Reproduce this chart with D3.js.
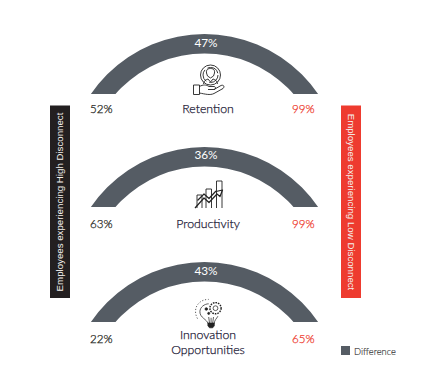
<!DOCTYPE html>
<html>
<head>
<meta charset="utf-8">
<script src="https://cdn.jsdelivr.net/npm/d3@7"></script>
<style>
  html, body { margin: 0; padding: 0; background: #fff; }
  text { font-family: Lato, sans-serif; font-weight: 300; }
</style>
</head>
<body>
<div id="chart"></div>
<script>
var categories = ['Retention', 'Productivity', 'Innovation Opportunities'];
var highDisconnect = [52, 63, 22];
var lowDisconnect = [99, 99, 65];
var difference = [47, 36, 43];
var leftLabel = 'Employees experiencing High Disconnect';
var rightLabel = 'Employees experiencing Low Disconnect';
var legendLabel = 'Difference';

var grey = '#555c64', red = '#ee3b2f', dark = '#231f20', ink = '#1f2138';

var svg = d3.select('#chart')
    .append('svg')
        .attr('width', 421)
        .attr('height', 382)
        .style('display', 'block');

// base line of each arch
var baseY = d3.scaleOrdinal().domain(categories).range([94, 207, 322]);
var cx = 204.5, rOuter = 137.5, rInner = 118, rise = 77.5;
var arc = d3.arc().innerRadius(rInner).outerRadius(rOuter)
    .startAngle(-Math.PI / 2).endAngle(Math.PI / 2);

var defs = svg.append('defs');
defs.append('clipPath').attr('id', 'cut')
    .append('rect')
        .attr('x', -rOuter).attr('y', -rOuter)
        .attr('width', rOuter * 2).attr('height', rOuter - rise);

var rows = svg.selectAll('g.row')
    .data(categories)
    .enter()
    .append('g')
        .attr('class', 'row')
        .attr('transform', d => 'translate(0,' + baseY(d) + ')');

rows.append('g')
    .attr('transform', 'translate(' + cx + ',' + rise + ')')
    .append('path')
        .attr('d', arc())
        .attr('clip-path', 'url(#cut)')
        .style('fill', grey);

rows.append('text')
    .attr('x', 206)
    .attr('y', (d, i) => [-47, -48, -47][i])
    .attr('text-anchor', 'middle')
    .style('font-size', '11.8px')
    .style('font-weight', 400)
    .style('fill', '#fff')
    .text((d, i) => difference[i] + '%');

// light face gets a hair of stroke, the original sits between light and regular
rows.append('text')
    .attr('x', 90)
    .attr('y', (d, i) => [19, 21, 21][i])
    .style('font-size', '11.6px')
    .style('fill', dark)
    .style('stroke', dark)
    .style('stroke-width', 0.25)
    .text((d, i) => highDisconnect[i] + '%');

rows.append('text')
    .attr('x', 314.5)
    .attr('y', (d, i) => [19, 21, 21][i])
    .attr('text-anchor', 'end')
    .style('font-size', '11.6px')
    .style('fill', red)
    .style('stroke', red)
    .style('stroke-width', 0.25)
    .text((d, i) => lowDisconnect[i] + '%');

// category names, the long one goes on two lines
rows.each(function(d, i) {
    var words = d.length > 15 ? ['Innovation', 'Opportunities'] : [d];
    var y = [19, 21, 17][i];
    d3.select(this).selectAll('text.name')
        .data(words)
        .enter()
        .append('text')
            .attr('class', 'name')
            .attr('x', 208)
            .attr('y', (w, j) => y + j * 15)
            .attr('text-anchor', 'middle')
            .style('font-size', '12.3px')
            .style('fill', ink)
            .style('stroke', ink)
            .style('stroke-width', 0.25)
            .text(w => w);
});

// side bands
function band(x, fill, label, angle) {
    svg.append('rect')
        .attr('x', x).attr('y', 105.5)
        .attr('width', 20).attr('height', 192.5)
        .style('fill', fill);
    svg.append('text')
        .attr('transform', 'translate(' + (x + 10) + ',202) rotate(' + angle + ')')
        .attr('text-anchor', 'middle')
        .attr('dy', '0.35em')
        .style('font-family', '"Liberation Sans", sans-serif')
        .style('font-weight', 400)
        .style('font-size', '9.7px')
        .style('fill', '#f4f1ee')
        .text(label);
}
band(50, dark, leftLabel, -90);
band(341, red, rightLabel, 90);

// legend
svg.append('rect')
    .attr('x', 341).attr('y', 346)
    .attr('width', 9).attr('height', 9)
    .style('fill', grey);
svg.append('text')
    .attr('x', 354).attr('y', 354.5)
    .style('font-size', '9.3px')
    .style('fill', '#333')
    .style('stroke', '#333')
    .style('stroke-width', 0.15)
    .text(legendLabel);

// icons
function icon(x, y) {
    return svg.append('g')
        .attr('transform', 'translate(' + x + ',' + y + ')')
        .style('fill', 'none')
        .style('stroke', '#222')
        .style('stroke-width', 0.9)
        .style('stroke-linejoin', 'round');
}

var hand = icon(193, 65);
hand.append('path').attr('d', 'M0.5 20H6.5V29.5H0.5Z');
hand.append('path').attr('d', 'M6.5 21.5C10 19.5 13 19.5 16 21.5H21C23 21.5 23 24.5 21 24.5H15M21 24.5L28 20.5C30.5 19.5 32 21.5 30 23.5L21 28.5C17 30.5 12 29 6.5 28');
hand.append('circle').attr('cx', 17.5).attr('cy', 10).attr('r', 10);
hand.append('circle').attr('cx', 17.5).attr('cy', 10).attr('r', 7.5).style('stroke-dasharray', '13 3');
hand.append('path').attr('d', 'M13.5 8C13 4.5 15 3.5 17.5 3.5C20 3.5 22 4.5 21.5 8L20.5 11L17.5 13L14.5 11Z');
hand.append('path').attr('d', 'M10.5 19C11 15.5 13 14.5 15 14L17.5 17L20 14C22 14.5 24 15.5 24.5 19');

var growth = icon(195, 180);
growth.append('path').attr('d', 'M2 28V15H7V28M11 28V9H16.5V28M21.5 28V1H27V28');
growth.append('path').style('stroke-width', 1.2)
    .attr('d', 'M0 28L9 18L14 22.5L22 14L25 16.5L27.5 10L21 11.5M2.5 20.5L9 14L14 18.5L21 11');

var bulb = icon(196, 300).append('g').attr('transform', 'translate(1.5,1) scale(0.8)');
bulb.append('path').attr('d', 'M13 28C12 23 3 21 3 13.5C3 7.5 9 3.5 14 3.5');
bulb.append('path').attr('d', 'M21 28C21 24 24 22 25.5 19');
bulb.append('path').style('fill', '#222').attr('d', 'M13 27.5H21V31L19 33.5H15L13 31Z');
bulb.append('path').attr('d', 'M15 27.5L14 20M19 27.5L20 20M17 27V21');
bulb.append('circle').attr('cx', 22.5).attr('cy', 9).attr('r', 3);
bulb.append('circle').attr('cx', 22.5).attr('cy', 9).attr('r', 7)
    .style('stroke-width', 1.8).style('stroke-dasharray', '2 1.2');
bulb.append('circle').attr('cx', 11).attr('cy', 10).attr('r', 1.6).style('fill', '#222');
bulb.append('circle').attr('cx', 14).attr('cy', 15.5).attr('r', 1.3).style('fill', '#222');
bulb.append('path').style('stroke-dasharray', '1.5 2.2')
    .attr('d', 'M0 22C-4 15 -3 7 2 2.5C5 -0.5 9 -2 14 -2');
</script>
</body>
</html>
